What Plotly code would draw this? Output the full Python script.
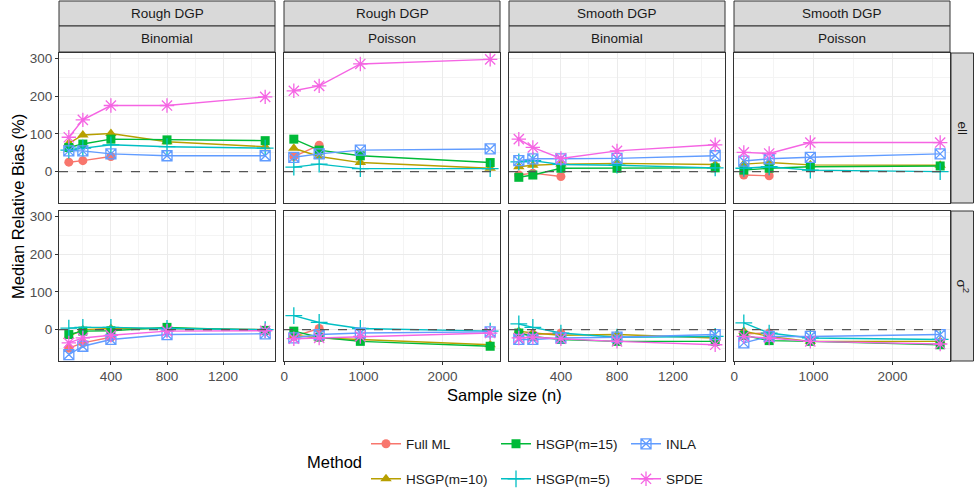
import plotly.graph_objects as go

# ---------------- data ----------------
methods = ["Full ML", "HSGP(m=10)", "HSGP(m=15)", "HSGP(m=5)", "INLA", "SPDE"]
dgp_labels = ["Rough DGP", "Rough DGP", "Smooth DGP", "Smooth DGP"]
lik_labels = ["Binomial", "Poisson", "Binomial", "Poisson"]
param_labels = ["ell", "σ<sup>2</sup>"]

n_binom = [100, 200, 400, 800, 1500]
n_pois = [121, 441, 961, 2601]

# Rough DGP, Binomial, ell
rb_ell_fullml = [25, 29, 40]
rb_ell_m10 = [75, 97, 101, 79, 66]
rb_ell_m15 = [64, 73, 86, 84, 82]
rb_ell_m5 = [57, 62, 71, 66, 62]
rb_ell_inla = [55, 55, 47, 42, 42]
rb_ell_spde = [91, 137, 175, 175, 198]

# Rough DGP, Poisson, ell
rp_ell_fullml = [40, 70]
rp_ell_m10 = [62, 40, 24, 9]
rp_ell_m15 = [86, 57, 42, 24]
rp_ell_m5 = [12, 20, 8, 8]
rp_ell_inla = [38, 47, 57, 60]
rp_ell_spde = [214, 227, 285, 297]

# Smooth DGP, Binomial, ell
sb_ell_fullml = [-9, -4, -13]
sb_ell_m10 = [13, 17, 20, 22, 19]
sb_ell_m15 = [-15, -9, 9, 9, 10]
sb_ell_m5 = [26, 29, 19, 17, 10]
sb_ell_inla = [29, 34, 34, 35, 42]
sb_ell_spde = [86, 64, 35, 55, 71]

# Smooth DGP, Poisson, ell
sp_ell_fullml = [-9, -11]
sp_ell_m10 = [20, 24, 18, 17]
sp_ell_m15 = [4, 9, 13, 15]
sp_ell_m5 = [9, 13, 4, 0]
sp_ell_inla = [28, 34, 38, 47]
sp_ell_spde = [51, 48, 77, 77]

# Rough DGP, Binomial, sigma^2
rb_s2_fullml = [-49, -35, -20]
rb_s2_m10 = [-18, 0, 3, 3, 0]
rb_s2_m15 = [-13, -4, -3, 6, -2]
rb_s2_m5 = [4, 6, 6, 3, 0]
rb_s2_inla = [-66, -44, -26, -13, -11]
rb_s2_spde = [-35, -22, -15, -4, -3]

# Rough DGP, Poisson, sigma^2
rp_s2_fullml = [-18, 3]
rp_s2_m10 = [-15, -22, -26, -40]
rp_s2_m15 = [-4, -20, -31, -44]
rp_s2_m5 = [37, 19, 3, -4]
rp_s2_inla = [-22, -13, -9, -6]
rp_s2_spde = [-24, -22, -18, -9]

# Smooth DGP, Binomial, sigma^2
sb_s2_fullml = [-11, -13, -9]
sb_s2_m10 = [-4, -9, -15, -13, -22]
sb_s2_m15 = [-9, -18, -26, -31, -31]
sb_s2_m5 = [15, 6, -9, -20, -18]
sb_s2_inla = [-26, -26, -22, -20, -13]
sb_s2_spde = [-22, -20, -24, -31, -40]

# Smooth DGP, Poisson, sigma^2
sp_s2_fullml = [-11, -9]
sp_s2_m10 = [-4, -18, -31, -31]
sp_s2_m15 = [-15, -29, -31, -40]
sp_s2_m5 = [18, -9, -22, -26]
sp_s2_inla = [-35, -18, -18, -13]
sp_s2_spde = [-18, -22, -31, -38]

# ---------------- assembly ----------------
panels = [
    [(n_binom, [rb_ell_fullml, rb_ell_m10, rb_ell_m15, rb_ell_m5, rb_ell_inla, rb_ell_spde]),
     (n_pois, [rp_ell_fullml, rp_ell_m10, rp_ell_m15, rp_ell_m5, rp_ell_inla, rp_ell_spde]),
     (n_binom, [sb_ell_fullml, sb_ell_m10, sb_ell_m15, sb_ell_m5, sb_ell_inla, sb_ell_spde]),
     (n_pois, [sp_ell_fullml, sp_ell_m10, sp_ell_m15, sp_ell_m5, sp_ell_inla, sp_ell_spde])],
    [(n_binom, [rb_s2_fullml, rb_s2_m10, rb_s2_m15, rb_s2_m5, rb_s2_inla, rb_s2_spde]),
     (n_pois, [rp_s2_fullml, rp_s2_m10, rp_s2_m15, rp_s2_m5, rp_s2_inla, rp_s2_spde]),
     (n_binom, [sb_s2_fullml, sb_s2_m10, sb_s2_m15, sb_s2_m5, sb_s2_inla, sb_s2_spde]),
     (n_pois, [sp_s2_fullml, sp_s2_m10, sp_s2_m15, sp_s2_m5, sp_s2_inla, sp_s2_spde])],
]

colors = ["#F8766D", "#B79F00", "#00BA38", "#00BFC4", "#619CFF", "#F564E3"]
symbols = ["circle", "triangle-up", "square", "cross-thin", "square-x-open", "asterisk-open"]
msizes = [9, 10, 9, 12, 10, 12]
legend_of = ["legend", "legend2", "legend", "legend2", "legend", "legend2"]

W, H = 974, 492
FONT = "Liberation Sans, Arial, Helvetica, sans-serif"
SMALL = 13.5
BIG = 16.5
col_px = [(59, 275), (284, 500), (509, 725), (734, 950)]
row_px = [(53, 203), (211, 361)]


def px_x(p):
    return p / W


def px_y(p):
    return 1 - p / H


fig = go.Figure()
layout = {}
shapes = []
annotations = []

for r in range(2):
    for c in range(4):
        idx = r * 4 + c + 1
        xs, series = panels[r][c]
        xa = "x" if idx == 1 else f"x{idx}"
        ya = "y" if idx == 1 else f"y{idx}"
        for m, vals in enumerate(series):
            is_open = symbols[m] in ("cross-thin", "square-x-open", "asterisk-open")
            fig.add_trace(go.Scatter(
                x=xs[:len(vals)], y=vals, xaxis=xa, yaxis=ya,
                mode="lines+markers", name=methods[m], legendgroup=methods[m],
                showlegend=(idx == 1), legend=legend_of[m],
                line=dict(color=colors[m], width=1.4),
                marker=dict(symbol=symbols[m], size=msizes[m], color=colors[m],
                            line=dict(color=colors[m], width=1.3 if is_open else 0)),
            ))
        binom = (c % 2 == 0)
        xkey = "xaxis" if idx == 1 else f"xaxis{idx}"
        ykey = "yaxis" if idx == 1 else f"yaxis{idx}"
        x0p, x1p = col_px[c]
        y0p, y1p = row_px[r]
        layout[xkey] = dict(
            domain=[px_x(x0p), px_x(x1p)], anchor=ya,
            range=[30, 1570] if binom else [-3, 2725],
            tick0=0, dtick=400 if binom else 1000,
            minor=dict(dtick=200 if binom else 500, showgrid=True, gridcolor="#F4F4F4", gridwidth=0.6),
            showgrid=True, gridcolor="#EBEBEB", gridwidth=1,
            zeroline=False, showline=True, mirror=True, linecolor="#333333", linewidth=1,
            ticks="outside" if r == 1 else "", ticklen=3, tickcolor="#333333",
            showticklabels=(r == 1), tickfont=dict(size=SMALL, color="#4D4D4D", family=FONT),
            automargin=False,
        )
        layout[ykey] = dict(
            domain=[px_y(y1p), px_y(y0p)], anchor=xa,
            range=[-83, 314], tick0=0, dtick=100,
            minor=dict(dtick=50, showgrid=True, gridcolor="#F4F4F4", gridwidth=0.6),
            showgrid=True, gridcolor="#EBEBEB", gridwidth=1,
            zeroline=False, showline=True, mirror=True, linecolor="#333333", linewidth=1,
            ticks="outside" if c == 0 else "", ticklen=3, tickcolor="#333333",
            showticklabels=(c == 0), tickfont=dict(size=SMALL, color="#4D4D4D", family=FONT),
            automargin=False,
        )
        shapes.append(dict(type="line", xref=f"{xa} domain", yref=ya, x0=0, x1=1, y0=0, y1=0,
                           line=dict(color="#555555", width=1.1, dash="dash"), layer="above"))

# top strips
for c in range(4):
    x0p, x1p = col_px[c]
    for (t0, t1, txt) in [(1, 26, dgp_labels[c]), (26, 52, lik_labels[c])]:
        shapes.append(dict(type="rect", xref="paper", yref="paper",
                           x0=px_x(x0p), x1=px_x(x1p), y0=px_y(t1), y1=px_y(t0),
                           fillcolor="#D9D9D9", line=dict(color="#333333", width=1), layer="below"))
        annotations.append(dict(xref="paper", yref="paper", x=px_x((x0p + x1p) / 2), y=px_y((t0 + t1) / 2),
                                text=txt, showarrow=False, xanchor="center", yanchor="middle",
                                font=dict(size=SMALL, color="#1A1A1A", family=FONT)))
# right strips
for r in range(2):
    y0p, y1p = row_px[r]
    shapes.append(dict(type="rect", xref="paper", yref="paper",
                       x0=px_x(951), x1=px_x(973.5), y0=px_y(y1p), y1=px_y(y0p),
                       fillcolor="#D9D9D9", line=dict(color="#333333", width=1), layer="below"))
    annotations.append(dict(xref="paper", yref="paper", x=px_x(962.5), y=px_y((y0p + y1p) / 2),
                            text=param_labels[r], showarrow=False, textangle=90,
                            xanchor="center", yanchor="middle",
                            font=dict(size=SMALL, color="#1A1A1A", family=FONT)))

# axis titles
annotations.append(dict(xref="paper", yref="paper", x=px_x(18), y=px_y(207), text="Median Relative Bias (%)",
                        showarrow=False, textangle=-90, xanchor="center", yanchor="middle",
                        font=dict(size=BIG, color="#000000", family=FONT)))
annotations.append(dict(xref="paper", yref="paper", x=px_x(504.5), y=px_y(395), text="Sample size (n)",
                        showarrow=False, xanchor="center", yanchor="middle",
                        font=dict(size=BIG, color="#000000", family=FONT)))
annotations.append(dict(xref="paper", yref="paper", x=px_x(305), y=px_y(462), text="Method",
                        showarrow=False, xanchor="left", yanchor="middle",
                        font=dict(size=BIG, color="#000000", family=FONT)))

leg_common = dict(orientation="h", xanchor="left", yanchor="middle", entrywidth=85,
                  entrywidthmode="pixels", bgcolor="rgba(0,0,0,0)",
                  font=dict(size=SMALL, color="#1A1A1A", family=FONT), traceorder="normal",
                  itemclick=False, itemdoubleclick=False)
layout["legend"] = dict(x=px_x(366), y=px_y(444), **leg_common)
layout["legend2"] = dict(x=px_x(366), y=px_y(479), **leg_common)

fig.update_layout(
    width=W, height=H, margin=dict(l=0, r=0, t=0, b=0, autoexpand=False),
    paper_bgcolor="white", plot_bgcolor="white",
    shapes=shapes, annotations=annotations, showlegend=True,
    font=dict(family=FONT),
    **layout,
)
fig.write_html("out.html", config={"displayModeBar": False},
               post_script="document.body.style.margin='0px';")
